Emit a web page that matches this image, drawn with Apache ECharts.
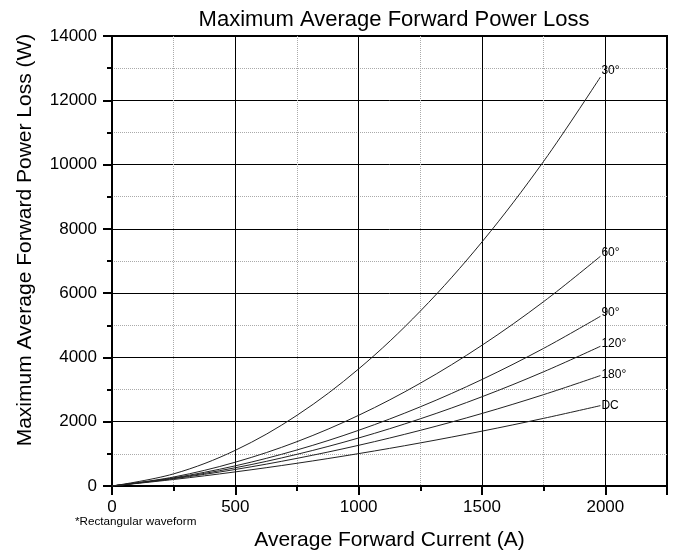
<!DOCTYPE html>
<html>
<head>
<meta charset="utf-8">
<script src="https://cdn.jsdelivr.net/npm/echarts@6/dist/echarts.min.js"></script>
<style>html,body{margin:0;padding:0;background:#fff}#c{width:677px;height:560px}</style>
</head>
<body>
<div id="c"></div>
<script>
// Average forward current (A)
const current = [0, 250, 500, 750, 1000, 1250, 1500, 1750, 1980];
// Power loss (W) per conduction angle
const loss30  = [0, 378, 1111, 2200, 3643, 5441, 7594, 10102, 12724];
const loss60  = [0, 280, 741, 1380, 2200, 3199, 4379, 5737, 7146];
const loss90  = [0, 255, 628, 1121, 1733, 2464, 3314, 4283, 5279];
const loss120 = [0, 240, 568, 986, 1494, 2091, 2777, 3554, 4346];
const loss180 = [0, 227, 514, 860, 1266, 1732, 2257, 2843, 3435];
const lossDC  = [0, 203, 439, 707, 1008, 1341, 1707, 2105, 2500];
const seriesNames = ['30°', '60°', '90°', '120°', '180°', 'DC'];
const seriesValues = [loss30, loss60, loss90, loss120, loss180, lossDC];
const labelOffsets = [-6, -4, -4, -3, -1, 0];

const FONT = "'Liberation Sans', Arial, sans-serif";
const chart = echarts.init(document.getElementById('c'), null, {renderer: 'canvas'});

const series = seriesNames.map((name, k) => ({
  name: name,
  type: 'line',
  smooth: 0.35,
  showSymbol: false,
  symbol: 'none',
  animation: false,
  lineStyle: {color: '#222', width: 1},
  data: current.map((x, i) => [x, seriesValues[k][i]]),
  endLabel: {
    show: true,
    formatter: '{a}',
    distance: 1,
    offset: [0, labelOffsets[k]],
    color: '#000',
    fontFamily: FONT,
    fontSize: 12
  }
}));

chart.setOption({
  animation: false,
  backgroundColor: '#fff',
  title: {
    text: 'Maximum Average Forward Power Loss',
    left: 389,
    textAlign: 'center',
    top: 4,
    textStyle: {fontFamily: FONT, fontSize: 22, fontWeight: 'normal', color: '#000'}
  },
  grid: {left: 112, right: 10, top: 36, bottom: 74, show: true, borderColor: '#000', borderWidth: 2, containLabel: false},
  xAxis: {
    type: 'value',
    min: 0, max: 2250, interval: 500,
    name: 'Average Forward Current (A)',
    nameLocation: 'middle',
    nameGap: 44,
    nameTextStyle: {fontFamily: FONT, fontSize: 21, color: '#000'},
    axisLine: {show: true, onZero: false, lineStyle: {color: '#000', width: 2}},
    axisTick: {show: true, inside: false, length: 9, lineStyle: {color: '#000', width: 2}},
    minorTick: {show: true, splitNumber: 2, length: 5, lineStyle: {color: '#000', width: 2}},
    axisLabel: {fontFamily: FONT, fontSize: 17, color: '#000', margin: 13, showMaxLabel: false, formatter: v => String(v)},
    splitLine: {show: true, lineStyle: {color: '#000', width: 1}},
    minorSplitLine: {show: true, lineStyle: {color: '#aaa', width: 1, type: [1, 1]}}
  },
  yAxis: {
    type: 'value',
    min: 0, max: 14000, interval: 2000,
    axisLine: {show: true, onZero: false, lineStyle: {color: '#000', width: 2}},
    axisTick: {show: true, inside: false, length: 9, lineStyle: {color: '#000', width: 2}},
    minorTick: {show: true, splitNumber: 2, length: 5, lineStyle: {color: '#000', width: 2}},
    axisLabel: {fontFamily: FONT, fontSize: 17, color: '#000', margin: 15, formatter: v => String(v)},
    splitLine: {show: true, lineStyle: {color: '#000', width: 1}},
    minorSplitLine: {show: true, lineStyle: {color: '#aaa', width: 1, type: [1, 1]}}
  },
  graphic: [
    {
      type: 'text',
      x: 25, y: 240,
      rotation: Math.PI / 2,
      style: {
        text: 'Maximum Average Forward Power Loss (W)',
        fontFamily: FONT, fontSize: 21, fill: '#000',
        textAlign: 'center', textVerticalAlign: 'middle'
      }
    },
    {
      type: 'text',
      x: 75, y: 522,
      style: {
        text: '*Rectangular waveform',
        fontFamily: FONT, fontSize: 11.7, fill: '#000',
        textAlign: 'left', textVerticalAlign: 'middle'
      }
    }
  ],
  series: series
});
</script>
</body>
</html>
